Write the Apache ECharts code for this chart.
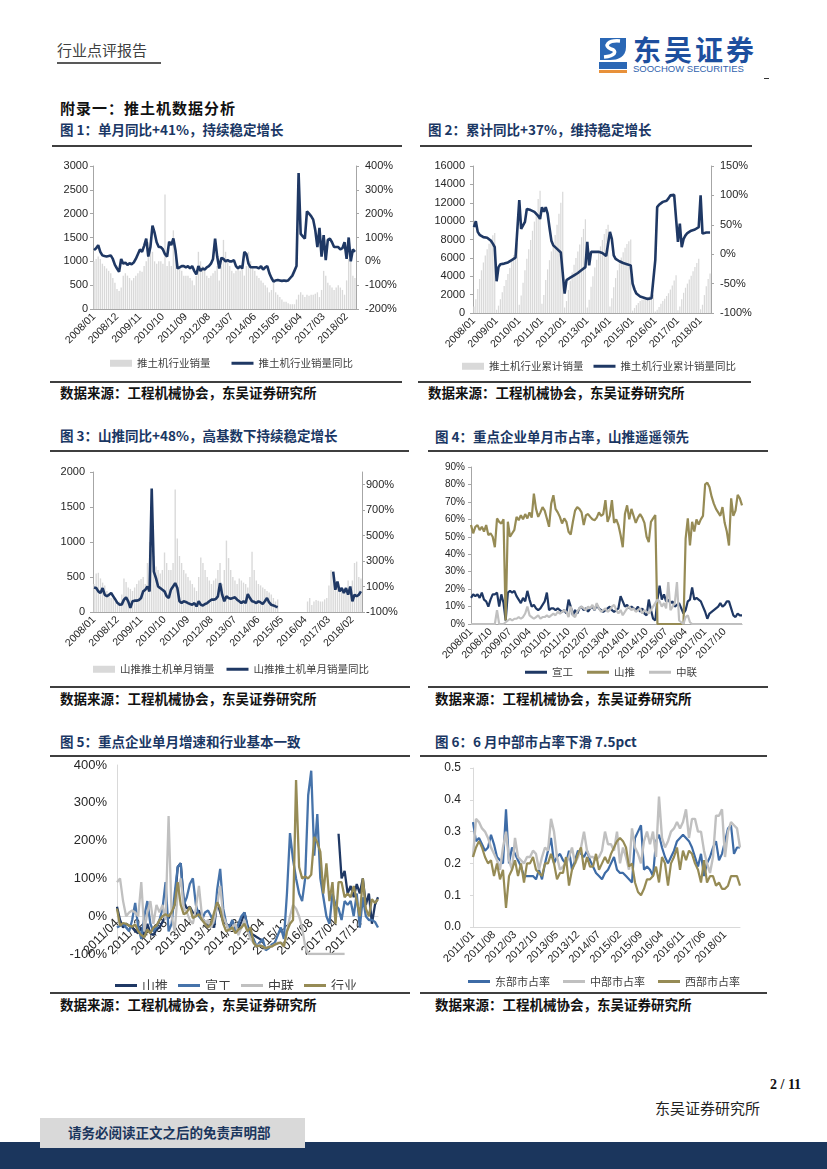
<!DOCTYPE html>
<html><head><meta charset="utf-8">
<script src="https://cdn.jsdelivr.net/npm/echarts/dist/echarts.min.js"></script>
<style>
body{margin:0;width:827px;height:1169px;position:relative;background:#fff;font-family:"Noto Sans CJK SC",sans-serif;overflow:hidden}
.t{position:absolute;white-space:nowrap;line-height:1}
.hl{position:absolute;height:2px;background:#3f3f3f}
.c{position:absolute}
.title{font-size:13.5px;font-weight:bold;color:#1a3764}
.src{font-size:13.5px;font-weight:bold;color:#111}
</style></head><body>
<div class="t" style="left:57px;top:42px;font-size:15px;color:#404040">行业点评报告</div>
<div class="c" style="left:57px;top:62px;width:104px;height:2px;background:#595959"></div>
<svg class="c" style="left:596px;top:35px" width="34" height="40" viewBox="0 0 34 40">
<path d="M4 3 H30 V12 C30 22 22 25 14 25 H4 Z" fill="#2a67b5"/>
<path d="M24 6 C12 5 7 11 15 14 C22 16 19 21 8 22" stroke="#fff" stroke-width="3.5" fill="none"/>
<rect x="3" y="27" width="28" height="7" fill="#2a67b5"/>
<rect x="3" y="35" width="28" height="3" fill="#e8913a"/>
</svg>
<div class="t" style="left:633px;top:35px;font-size:28px;font-weight:bold;color:#1d4f9e;letter-spacing:3px">东吴证券</div>
<div class="t" style="left:633px;top:64px;font-size:9.5px;color:#2f62ad;font-family:'Liberation Sans',Arial,sans-serif">SOOCHOW SECURITIES</div>
<div class="c" style="left:764px;top:78px;width:5px;height:1px;background:#333"></div>
<div class="t" style="left:60px;top:100px;font-size:15px;font-weight:bold;color:#111;letter-spacing:1px">附录一：推土机数据分析</div>

<div class="t title" style="left:60px;top:123px">图 1：单月同比+41%，持续稳定增长</div>
<div class="t title" style="left:428px;top:123px">图 2：累计同比+37%，维持稳定增长</div>
<div class="hl" style="left:52px;top:145px;width:350px"></div>
<div class="hl" style="left:420px;top:145px;width:332px"></div>
<div class="c" id="c1" style="left:50px;top:152px;width:370px;height:228px"></div>
<div class="c" id="c2" style="left:420px;top:152px;width:370px;height:228px"></div>
<div class="hl" style="left:50px;top:381px;width:352px"></div>
<div class="hl" style="left:418px;top:381px;width:333px"></div>
<div class="t src" style="left:60px;top:386px">数据来源：工程机械协会，东吴证券研究所</div>
<div class="t src" style="left:428px;top:386px">数据来源：工程机械协会，东吴证券研究所</div>

<div class="t title" style="left:60px;top:429px">图 3：山推同比+48%，高基数下持续稳定增长</div>
<div class="t title" style="left:435px;top:430px">图 4：重点企业单月市占率，山推遥遥领先</div>
<div class="hl" style="left:50px;top:450px;width:359px"></div>
<div class="hl" style="left:428px;top:450px;width:340px"></div>
<div class="c" id="c3" style="left:50px;top:457px;width:370px;height:222px"></div>
<div class="c" id="c4" style="left:420px;top:457px;width:370px;height:222px"></div>
<div class="hl" style="left:50px;top:686px;width:360px"></div>
<div class="hl" style="left:428px;top:686px;width:340px"></div>
<div class="t src" style="left:60px;top:692px">数据来源：工程机械协会，东吴证券研究所</div>
<div class="t src" style="left:435px;top:692px">数据来源：工程机械协会，东吴证券研究所</div>

<div class="t title" style="left:60px;top:735px">图 5：重点企业单月增速和行业基本一致</div>
<div class="t title" style="left:435px;top:735px">图 6：6 月中部市占率下滑 7.5pct</div>
<div class="hl" style="left:50px;top:755px;width:360px"></div>
<div class="hl" style="left:420px;top:755px;width:347px"></div>
<div class="c" id="c5" style="left:50px;top:757px;width:370px;height:233px"></div>
<div class="c" id="c6" style="left:420px;top:757px;width:370px;height:233px"></div>
<div class="hl" style="left:50px;top:992px;width:360px"></div>
<div class="hl" style="left:420px;top:992px;width:347px"></div>
<div class="t src" style="left:60px;top:998px">数据来源：工程机械协会，东吴证券研究所</div>
<div class="t src" style="left:435px;top:998px">数据来源：工程机械协会，东吴证券研究所</div>

<div class="t" style="left:770px;top:1078px;font-size:14px;font-weight:bold;color:#111;font-family:'Liberation Serif',serif">2 / 11</div>
<div class="t" style="left:655px;top:1100px;font-size:15px;color:#222">东吴证券研究所</div>
<div class="c" style="left:0;top:1142px;width:827px;height:27px;background:#1b365d"></div>
<div class="c" style="left:40px;top:1118px;width:265px;height:30px;background:#d9d9d9"></div>
<div class="t" style="left:68px;top:1126px;font-size:13.5px;font-weight:bold;color:#1b365d">请务必阅读正文之后的免责声明部</div>

<script>
// ---------- data ----------
const bar1 = [1000,1050,1100,1050,950,900,850,800,750,650,550,420,
 380,450,700,750,700,650,600,650,700,750,800,780,
 900,1000,1400,1300,1200,1000,950,1000,1000,950,2400,900,
 1000,900,1650,1100,950,900,800,700,700,700,650,600,
 500,700,1200,1000,900,800,700,650,700,750,800,900,
 600,900,1450,1200,1000,900,800,750,800,850,800,850,
 700,900,1200,1000,900,800,700,650,600,550,500,450,
 350,400,550,350,300,250,200,150,150,120,100,100,
 100,200,300,350,300,250,300,280,300,300,320,350,
 250,400,800,700,550,500,450,400,450,500,450,400,
 300,600,1050,1000,700,650];
const yoy1 = [47,55,68,40,25,22,20,22,25,10,-15,-30,
 -44,10,-10,-5,-15,-8,-12,-5,10,30,50,40,
 65,95,20,60,150,120,80,60,60,50,30,20,
 82,68,96,47,-30,-25,-20,-20,-25,-20,-30,-20,
 -40,-55,-20,-40,-30,-35,-25,-20,-10,10,95,20,
 -30,15,10,0,5,0,0,5,-20,-30,-20,-30,
 40,30,-10,-25,-25,-25,-25,-30,-20,-35,-25,-20,
 -50,-70,-85,-80,-78,-80,-82,-80,-82,-80,-70,-60,
 -40,-20,370,115,105,95,210,200,190,175,130,60,
 140,20,110,5,90,95,80,60,60,60,50,55,
 80,10,100,0,50,40];
const cum2 = [700,1500,2600,3700,4650,5500,6250,6950,7550,8050,8450,8700,
 350,800,1500,2250,2950,3600,4250,4900,5600,6300,7000,7600,
 900,1900,3300,4650,5900,6950,7950,8950,9950,11000,12400,13300,
 1000,1950,3600,4750,5750,6700,7600,8500,9600,10800,12000,13200,
 600,1300,2500,3500,4400,5250,6000,6700,7450,8250,9150,10200,
 600,1450,2850,4000,4950,5800,6550,7250,7950,8600,9150,9600,
 700,1600,2800,3800,4650,5400,6050,6600,7100,7500,7800,8000,
 250,550,850,1100,1300,1450,1550,1650,1750,1850,1920,2000,
 150,350,650,1000,1300,1550,1850,2150,2550,3000,3550,4100,
 300,700,1500,2200,2750,3200,3650,4050,4550,5000,5450,5900,
 400,900,1950,2900,3700,4300];
const cumYoy2 = [46,56,38,33,30,29,29,28,25,23,18,12,
 -46,-22,-17,-16,-16,-15,-14,-12,-10,-8,-6,-4,
 92,43,46,55,77,76,75,74,72,69,65,60,
 80,72,80,69,45,23,15,12,9,6,3,1,
 -67,-44,-42,-40,-38,-36,-34,-32,-30,-27,-25,-22,
 21,-19,4,4,4,4,4,3,2,0,-3,-5,
 38,26,-2,-8,-10,-12,-14,-15,-16,-17,-18,-19,
 -50,-60,-67,-70,-72,-73,-74,-75,-76,-76,-75,-74,
 -10,80,84,87,89,90,91,95,100,103,101,100,
 21,52,12,26,32,36,38,40,41,42,44,46,
 100,35,38,37,38,37];
const st3 = [400,550,560,480,420,380,300,250,200,200,150,100,
 150,250,480,430,350,330,300,350,400,450,470,500,
 400,700,1000,900,800,650,600,550,600,850,700,600,
 600,700,1750,1050,800,700,600,550,500,450,400,350,
 300,500,780,700,600,500,450,400,450,480,600,700,
 400,600,1020,770,600,500,450,400,480,450,420,400,
 350,500,860,600,450,400,380,350,330,300,280,250,
 200,150,180,null,null,null,null,null,null,null,null,null,
 null,null,null,null,150,200,100,150,170,160,150,150,
 180,200,380,600,550,400,350,320,300,320,350,450,
 300,450,700,720,500,480];
const stYoy3 = [93,88,62,49,88,36,23,36,49,23,-3,-30,
 -43,-40,-3,15,-16,-68,-16,-11,-11,-5,10,62,
 75,100,62,871,218,166,100,88,75,62,23,10,
 75,100,127,88,-16,-30,-16,-21,-30,-37,-43,-30,
 -56,-16,-43,-48,-37,-30,-16,-3,-3,2,23,127,
 36,-16,23,10,5,10,15,-3,-16,-30,-16,-30,
 41,10,-16,-20,-30,-16,-25,-37,-16,10,-25,-43,
 -48,-56,-63,null,null,null,null,null,null,null,null,null,
 null,null,null,null,null,null,null,null,null,null,null,null,
 null,null,null,null,218,75,140,62,88,49,88,36,
 100,-16,36,23,36,62];
const xg4 = [15,17,16,17,15,18,14,13,10,14,17,17,
 18,10,17,12,2,18,19,18,19,16,14,12,
 15,13,19,14,10,11,9,8,9,11,13,18,
 8,9,9,8,9,8,7,8,6,14,10,5,
 8,6,9,10,8,9,7,9,10,8,11,9,
 8,7,8,9,10,8,7,8,9,16,13,10,
 11,9,10,9,8,10,7,9,6,5,14,8,
 3,2,14,22,14,17,13,14,12,13,10,11,
 12,9,6,8,13,14,21,14,15,14,13,10,
 7,3,6,7,8,9,10,12,10,11,13,13,
 9,5,4,6,5,5];
const st4 = [56.7,52,55.7,56.7,53.8,55.7,53,56.7,51,52,50,44,
 60.5,58.6,57.6,60,2,58.6,50,52,54,61.4,59.5,62.4,
 60,63,60.5,64,61,74.7,66,61.4,64,67,65,60.5,
 55.7,69,73.8,66,64,61.4,57.6,60.5,58.6,52.9,51.3,58.6,
 65,67,66,64,56.7,62.4,63,61.4,60,59.5,61,64,
 62,63,71,58.6,62,71,58,60,56.7,51,44,63,
 68,60,66,62,58,61,63,61,58,50,47,58.6,
 60.5,62.4,0,0,0,0,0,0,0,0,0,0,
 0,0,0,49,60.5,45,58.6,53,60,57,60,62,
 80,81,78.5,73,69,66,64,62,67,58,53,45,
 72,62,65,74,72,68];
const zl4 = [0,0,0,0,0,0,0,0,0,0,0,0,
 8,0,0,0,1,2,3,2,3,3,4,3,
 4,6,10,5,4,3,4,5,3,4,4,5,
 4,5,6,5,7,6,7,8,7,4,10,5,
 4,7,9,10,9,8,10,9,11,8,12,9,
 7,8,9,7,8,10,11,8,6,8,5,7,
 9,10,8,9,7,8,9,6,8,7,6,8,
 10,12,14,13,10,12,9,24,8,10,12,24,
 2,1,0,4,5,1,0,0,0,0,0,0,
 0,0,0,0,0,0,0,0,0,0,0,0,
 0,0,0,0,0,0];
const st5 = [25,-10,-30,-20,-25,-30,-40,-45,-30,-55,
 -20,-45,-50,-35,-30,-15,0,-5,10,30,
 130,140,40,20,25,10,5,15,-5,-15,
 -30,-15,-30,40,10,-15,-20,-30,-15,-25,
 -35,-15,10,-25,-45,-50,-55,-60,-65,
 null,null,null,null,null,null,null,null,null,null,null,null,
 null,null,null,null,null,null,null,null,null,null,null,null,
 218,100,120,60,80,50,85,60,100,30,60,-20,30,50];
const xg5 = [-30,-25,-20,-30,-40,-10,35,-30,-60,0,
 40,-20,-40,-30,-10,20,90,-40,-20,60,
 130,140,30,50,85,100,30,0,-10,10,
 15,0,-20,70,125,20,-20,-30,-10,-40,
 -20,0,10,-30,-50,-60,-80,-70,-60,-90,
 -85,-75,-70,-50,-30,-60,60,220,150,100,
 60,40,100,320,385,160,270,100,50,0,
 -20,60,30,20,-10,40,30,40,0,60,
 -30,50,0,-10,-10,-15,-30];
const zl5 = [90,100,40,0,10,15,10,0,90,-40,
 10,40,-20,30,10,30,-10,265,0,-40,
 60,100,20,10,-10,-20,20,80,0,-20,
 -10,-30,-10,30,80,0,-20,-40,-30,-20,
 -50,-30,-10,-40,-60,-70,-80,-75,-80,-85,
 -80,-80,-75,-70,-70,-80,-40,0,30,20,
 0,-30,-80,-100,-100,-100,-100,-100,-100,-100,
 -100,-100,-100,-100,-100,-100,
 null,null,null,null,null,null,null,null,null,null,null];
const ind5 = [20,-25,-18,-20,-25,-28,-22,-40,-50,-55,
 -35,-45,-30,-25,-10,0,5,0,10,30,
 90,30,5,10,25,-5,0,5,-10,-20,
 -30,-20,10,37,20,-20,-40,-35,-30,-45,
 -35,-30,-20,-40,-30,-70,-80,-78,-80,-85,
 -82,-80,-75,-72,-70,-80,-40,-20,-10,360,
 130,100,105,100,110,210,195,170,60,140,
 40,90,-20,90,90,50,60,50,80,40,
 0,100,20,0,45,35,45];
const east6 = [.33,.27,.28,.26,.24,.25,.29,.26,.22,.21,
 .20,.37,.20,.25,.23,.21,.19,.16,.16,.16,
 .16,.15,.18,.15,.20,.24,.28,.20,.22,.23,
 .21,.20,.24,.18,.21,.24,.23,.22,.24,.21,
 .19,.17,.16,.15,.17,.18,.20,.22,.18,.17,
 .17,.16,.15,.14,.28,.30,.32,.18,.19,.18,
 .16,.27,.29,.25,.22,.20,.22,.24,.27,.28,
 .29,.28,.27,.25,.22,.19,.23,.16,.20,.22,
 .25,.27,.21,.23,.27,.31,.32,.23,.25,.25];
const mid6 = [.22,.34,.33,.31,.30,.28,.25,.23,.21,.18,
 .25,.30,.21,.18,.28,.22,.21,.20,.22,.22,
 .24,.23,.18,.22,.25,.24,.34,.30,.22,.18,
 .19,.20,.22,.25,.20,.22,.25,.30,.24,.22,
 .22,.21,.22,.24,.30,.26,.26,.24,.30,.20,
 .25,.22,.18,.31,.25,.23,.20,.27,.30,.26,
 .30,.22,.41,.28,.25,.27,.30,.31,.33,.31,
 .33,.37,.28,.34,.34,.30,.30,.24,.20,.17,
 .22,.35,.35,.37,.22,.30,.33,.32,.31,.25];
const west6 = [.22,.25,.27,.25,.22,.20,.21,.16,.20,.15,
 .18,.06,.16,.18,.21,.16,.20,.14,.20,.20,
 .22,.18,.17,.16,.20,.20,.23,.20,.15,.17,
 .17,.22,.13,.18,.20,.23,.25,.18,.22,.19,
 .19,.23,.18,.20,.22,.20,.23,.25,.27,.28,
 .27,.25,.19,.20,.14,.11,.10,.12,.15,.15,
 .16,.19,.14,.22,.20,.13,.20,.22,.25,.18,
 .24,.21,.24,.23,.20,.18,.14,.21,.14,.16,
 .16,.13,.14,.12,.12,.13,.16,.16,.16,.13];

function months(y, m, n){
  const a=[];
  for(let i=0;i<n;i++){const k=m-1+i;const mm=k%12+1;a.push((y+Math.floor(k/12))+'/'+(mm<10?'0':'')+mm);}
  return a;
}
const cats1 = months(2008,1,126);
const cats5 = months(2011,4,87);
const cats6 = months(2011,1,90);

// ---------- styles ----------
const LAT = "'Liberation Sans', Arial, sans-serif";
const CJK = "'Noto Sans CJK SC', sans-serif";
const AX = '#a6a6a6', TXT = '#262626';
const NAVY='#1f3864', OLIVE='#968b55', LGRAY='#c0c0c0', STEEL='#4673aa', BARG='#d9d9d9';
const LINEICON = 'path://M0,0L22,0L22,3L0,3Z';
const plain = function(v){return String(v);};
const pct = function(v){return v+'%';};

function xCat(data, interval, fs, extra){
  return Object.assign({type:'category', data:data, boundaryGap:true,
    axisLine:{show:true,lineStyle:{color:AX}}, axisTick:{show:false},
    axisLabel:{rotate:45, interval:interval, fontSize:fs, color:TXT, fontFamily:LAT, margin:6}}, extra||{});
}
function yVal(min,max,iv,fs,fmt,margin,extra){
  return Object.assign({type:'value', min:min, max:max, interval:iv, splitLine:{show:false},
    axisLine:{show:true,lineStyle:{color:AX}}, axisTick:{show:true,length:3,lineStyle:{color:AX}},
    axisLabel:{fontSize:fs, color:TXT, fontFamily:LAT, margin:margin, formatter:fmt}}, extra||{});
}
function lineS(name,data,color,w,yi){
  return {name:name,type:'line',data:data,yAxisIndex:yi||0,symbol:'none',showSymbol:false,connectNulls:false,
    lineStyle:{color:color,width:w},itemStyle:{color:color},z:3};
}
function barS(name,data){
  return {name:name,type:'bar',data:data,barCategoryGap:'35%',itemStyle:{color:BARG},z:1};
}
function leg(items,left,top,gap,fs){
  return {left:left,top:top,itemGap:gap,itemWidth:22,itemHeight:7,
    textStyle:{fontSize:fs,color:'#404040',fontFamily:CJK},
    data:items.map(function(it){return {name:it[0],icon:it[1]?'rect':LINEICON};})};
}
function mk(id,opt){const c=echarts.init(document.getElementById(id),null,{renderer:'canvas'});opt.animation=false;c.setOption(opt);}

// Chart 1
mk('c1',{
  grid:{left:43,right:64,top:14,bottom:71},
  legend:leg([['推土机行业销量',1],['推土机行业销量同比',0]],55,201,21,10.5),
  xAxis:xCat(cats1,10,10.5),
  yAxis:[yVal(0,3000,500,11,plain,5), yVal(-200,400,100,11,pct,9,{position:'right'})],
  series:[barS('推土机行业销量',bar1), lineS('推土机行业销量同比',yoy1,NAVY,2.6,1)]
});
// Chart 2
mk('c2',{
  grid:{left:53,right:79,top:14,bottom:67},
  legend:leg([['推土机行业累计销量',1],['推土机行业累计销量同比',0]],37,204,10,10.5),
  xAxis:xCat(cats1,11,10.5),
  yAxis:[yVal(0,16000,2000,11,plain,8), yVal(-100,150,50,11,pct,9,{position:'right'})],
  series:[barS('推土机行业累计销量',cum2), lineS('推土机行业累计销量同比',cumYoy2,NAVY,2.6,1)]
});
// Chart 3
mk('c3',{
  grid:{left:43,right:58,top:15,bottom:67},
  legend:leg([['山推推土机单月销量',1],['山推推土机单月销量同比',0]],38,202,12,10.5),
  xAxis:xCat(cats1,10,10.5),
  yAxis:[yVal(0,2000,500,11,plain,8),
    yVal(-100,1000,200,11,pct,4,{position:'right'})],
  series:[barS('山推推土机单月销量',st3), lineS('山推推土机单月销量同比',stYoy3,NAVY,2.6,1)]
});
echarts.getInstanceByDom(document.getElementById('c3')).setOption({yAxis:[{},{axisLabel:{showMaxLabel:false}}]});
// Chart 4
mk('c4',{
  grid:{left:51,right:48,top:10,bottom:55},
  legend:leg([['宣工',0],['山推',0],['中联',0]],100,205,14,10.5),
  xAxis:xCat(cats1,8,10.5,{boundaryGap:false}),
  yAxis:yVal(0,90,10,10,pct,6),
  series:[lineS('宣工',xg4,NAVY,2.2), lineS('山推',st4,OLIVE,2.2), lineS('中联',zl4,LGRAY,2.2)]
});
// Chart 5 (category axis placed on the 0% line, as in the source)
mk('c5',{
  grid:{left:67,right:42,top:8,bottom:36},
  legend:leg([['山推',0],['宣工',0],['中联',0],['行业',0]],60,217,10,13),
  xAxis:xCat(cats5,7,12.5,{boundaryGap:false, offset:-37.8,
    axisLine:{show:true,onZero:false,lineStyle:{color:'#d9d9d9'}},
    axisLabel:{rotate:45,interval:7,fontSize:12.5,color:TXT,fontFamily:LAT,margin:5}}),
  yAxis:yVal(-100,400,100,13,pct,10,{axisTick:{show:false},axisLine:{show:true,lineStyle:{color:'#d9d9d9'}}}),
  series:[lineS('山推',st5,NAVY,2.3), lineS('宣工',xg5,STEEL,2.3), lineS('中联',zl5,LGRAY,2.3), lineS('行业',ind5,OLIVE,2.3)]
});
// Chart 6
mk('c6',{
  grid:{left:53,right:50,top:11,bottom:63},
  legend:leg([['东部市占率',0],['中部市占率',0],['西部市占率',0]],43,214,13,11),
  xAxis:xCat(cats6,6,11,{boundaryGap:false, axisLine:{show:true,lineStyle:{color:'#d9d9d9'}}}),
  yAxis:yVal(0,0.5,0.1,12,function(v){return v.toFixed(1);},12,{axisLine:{show:true,lineStyle:{color:'#d9d9d9'}},axisTick:{show:true,length:3,lineStyle:{color:'#d9d9d9'}}}),
  series:[lineS('东部市占率',east6,'#3d6ba6',2.2), lineS('中部市占率',mid6,LGRAY,2.4), lineS('西部市占率',west6,OLIVE,2.2)]
});
</script>
</body></html>
